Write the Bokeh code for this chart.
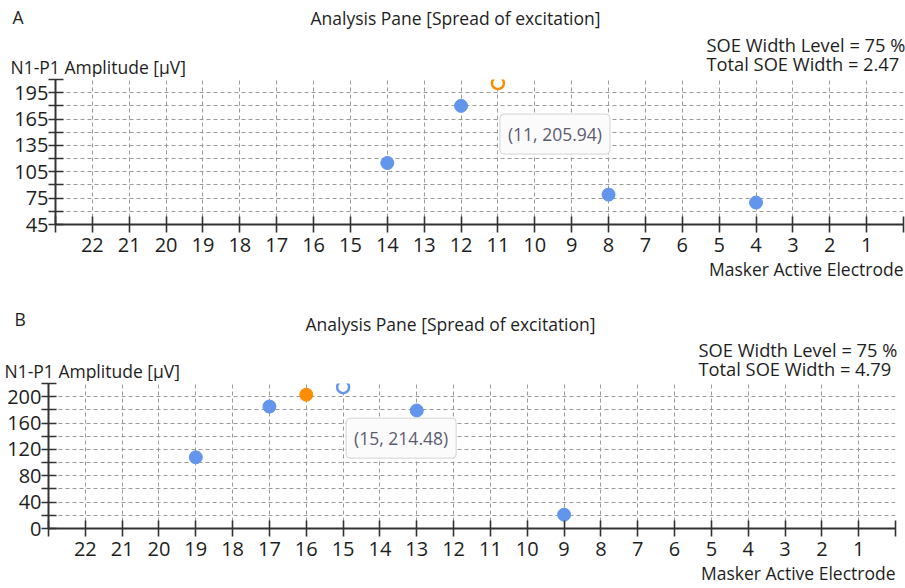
from bokeh.plotting import figure
from bokeh.models import FixedTicker, Label, Range1d, Title
from bokeh.layouts import column
from bokeh.embed import file_html
from bokeh.resources import INLINE

FONT = "Open Sans"
TXT = "#1e1e1e"
BLUE = "#6495ED"
ORANGE = "#FF8C00"
W = 905

# ---------------- data ----------------
electrode_ticks = list(range(0, 24))
x_axis_title = "Masker Active Electrode"
y_axis_title = "N1-P1 Amplitude [\u00b5V]"
pane_title = "Analysis Pane [Spread of excitation]"

# Panel A
a_blue_x = [14, 12, 8, 4]
a_blue_y = [115, 180, 79, 70]
a_peak_x = [11]
a_peak_y = [205.94]
a_level = 75
a_total = 2.47
a_yticks = list(range(45, 211, 15))
a_ylabels = list(range(45, 211, 30))

# Panel B
b_blue_x = [19, 17, 13, 9]
b_blue_y = [108, 185, 179, 21]
b_orange_x = [16]
b_orange_y = [203]
b_peak_x = [15]
b_peak_y = [214.48]
b_level = 75
b_total = 4.79
b_yticks = list(range(0, 221, 20))
b_ylabels = list(range(0, 221, 40))

TEXT_SIZE = "17.5px"
SOE_SIZE = "18.3px"
TICK_SIZE = "20px"


def text_fig(height, bg="white"):
    f = figure(width=W, height=height, x_range=Range1d(0, W), y_range=Range1d(0, height),
               output_backend="svg", toolbar_location=None, min_border=0,
               x_axis_type=None, y_axis_type=None, frame_align=False)
    f.outline_line_color = None
    f.background_fill_color = bg
    f.border_fill_color = bg
    f.xgrid.visible = False
    f.ygrid.visible = False
    return f


def add_text(f, x, y, text, align="left", size=TEXT_SIZE):
    f.add_layout(Label(x=x, y=y, text=text, text_font=FONT, text_font_size=size,
                       text_color=TXT, text_align=align, text_baseline="middle"))


def plot_fig(height, ymin, ymax, yticks, ylabels, left, right):
    p = figure(width=W, height=height, x_range=Range1d(23, 0),
               y_range=Range1d(ymin, ymax), output_backend="svg",
               toolbar_location=None, min_border_left=left,
               min_border_right=right, min_border_top=2,
               min_border_bottom=height - 2 - 145, frame_align=False)
    p.outline_line_color = None
    p.background_fill_color = "white"
    p.border_fill_color = "white"

    xt = FixedTicker(ticks=electrode_ticks, minor_ticks=[])
    yt = FixedTicker(ticks=yticks, minor_ticks=[])
    p.xaxis.ticker = xt
    p.yaxis.ticker = yt
    p.xgrid.ticker = xt
    p.ygrid.ticker = yt
    p.xaxis.major_label_overrides = {0: "", 23: ""}
    p.yaxis.major_label_overrides = {t: (str(t) if t in ylabels else "") for t in yticks}

    for ax in (p.xaxis, p.yaxis):
        ax.axis_line_color = "#333333"
        ax.axis_line_width = 2
        ax.major_tick_line_color = "#333333"
        ax.major_tick_line_width = 1.6
        ax.minor_tick_line_color = None
        ax.major_label_text_font = FONT
        ax.major_label_text_font_size = TICK_SIZE
        ax.major_label_text_color = TXT
    p.xaxis.major_tick_in = 8
    p.xaxis.major_tick_out = 8
    p.xaxis.major_label_standoff = 5
    p.yaxis.major_tick_in = 8
    p.yaxis.major_tick_out = 7
    p.yaxis.major_label_standoff = 0

    for g in (p.xgrid, p.ygrid):
        g.grid_line_color = "#9a9a9a"
        g.grid_line_dash = "4 3"
        g.grid_line_width = 1

    p.add_layout(Title(text=x_axis_title, align="right", text_font=FONT,
                       text_font_size=TEXT_SIZE, text_font_style="normal",
                       text_color=TXT, standoff=0, offset=0), "below")
    return p


def tooltip(p, x, y, dx, dy):
    txt = f"({x}, {y:.2f})"
    common = dict(x=x, y=y, text=txt, text_font=FONT, text_font_size=TEXT_SIZE,
                  text_align="left", text_baseline="middle", padding=8, border_radius=4)
    p.add_layout(Label(x_offset=dx + 3, y_offset=dy - 3, text_alpha=0,
                       background_fill_color="#c8c8c8", background_fill_alpha=0.6,
                       border_line_color=None, **common))
    p.add_layout(Label(x_offset=dx, y_offset=dy, text_color="#5c5c72",
                       background_fill_color="#fbfbfb",
                       border_line_color="#d4d4d4", border_line_width=1, **common))


# ---------------- Panel A ----------------
ha = text_fig(77)
add_text(ha, 12, 61, "A")
add_text(ha, 455, 60, pane_title, align="center")
add_text(ha, 706, 33, f"SOE Width Level = {a_level} %", size=SOE_SIZE)
add_text(ha, 706, 14, f"Total SOE Width = {a_total:.2f}", size=SOE_SIZE)
add_text(ha, 10, 11, y_axis_title)

pa = plot_fig(216, 45, 210, a_yticks, a_ylabels, left=55, right=2)
pa.scatter(a_blue_x, a_blue_y, size=13, color=BLUE)
pa.scatter(a_peak_x, a_peak_y, size=12, fill_color="white",
           line_color=ORANGE, line_width=2.5)
tooltip(pa, a_peak_x[0], a_peak_y[0], 2, -51)

# ---------------- separator ----------------
sep = text_fig(5, bg="#efefef")

# ---------------- Panel B ----------------
hb = text_fig(83)
add_text(hb, 14, 63, "B")
add_text(hb, 450, 58, pane_title, align="center")
add_text(hb, 698, 32, f"SOE Width Level = {b_level} %", size=SOE_SIZE)
add_text(hb, 698, 13, f"Total SOE Width = {b_total:.2f}", size=SOE_SIZE)
add_text(hb, 4, 11, y_axis_title)

pb = plot_fig(207, 0, 220, b_yticks, b_ylabels, left=48, right=10)
pb.scatter(b_blue_x, b_blue_y, size=13, color=BLUE)
pb.scatter(b_orange_x, b_orange_y, size=13, color=ORANGE)
pb.scatter(b_peak_x, b_peak_y, size=12, fill_color="white",
           line_color=BLUE, line_width=2.5)
tooltip(pb, b_peak_x[0], b_peak_y[0], 3, -51)

layout = column(ha, pa, sep, hb, pb, spacing=0)
open("out.html", "w").write(file_html(layout, INLINE))
